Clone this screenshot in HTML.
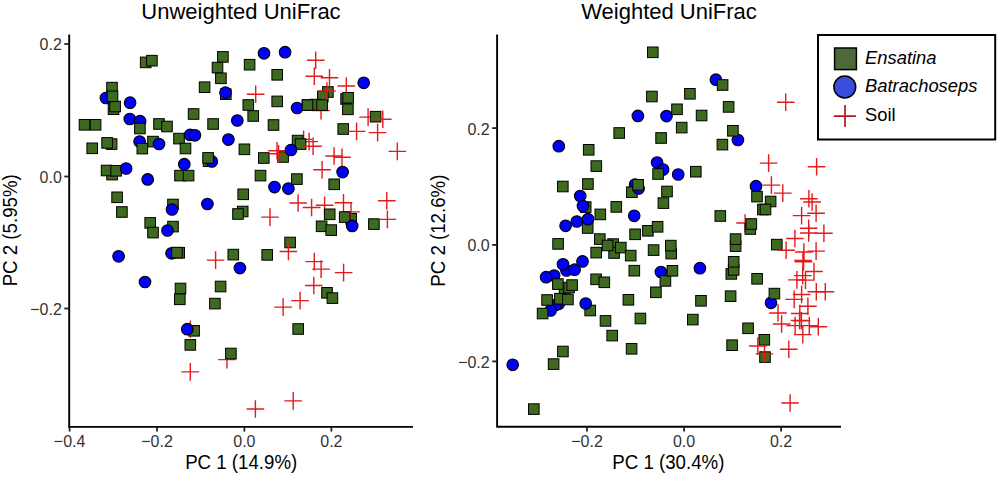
<!DOCTYPE html>
<html><head><meta charset="utf-8"><style>
html,body{margin:0;padding:0;background:#fff;}
body{width:1000px;height:479px;overflow:hidden;position:relative;}
svg{position:absolute;left:0;top:0;}
text{font-family:"Liberation Sans", sans-serif;}
.tl{font-size:16px;fill:#333;}
.ti{font-size:22px;fill:#000;}
.at{font-size:18.7px;fill:#000;}
.lg{font-size:18.4px;fill:#000;}
.s{fill:#3d6a1e;stroke:#000;stroke-width:1.0;}
.c{fill:#0000ff;stroke:#000;stroke-width:1.1;}
.x{stroke:#e31a1c;stroke-width:1.4;fill:none;}
</style></head><body>
<svg width="1000" height="479" viewBox="0 0 1000 479">
<rect width="1000" height="479" fill="#fff"/>
<text transform="translate(241 19.0) scale(1 1.04)" text-anchor="middle" class="ti">Unweighted UniFrac</text>
<text transform="translate(669 19.0) scale(1 1.04)" text-anchor="middle" class="ti">Weighted UniFrac</text>
<text transform="translate(241.2 469) scale(1 1.04)" text-anchor="middle" class="at">PC 1 (14.9%)</text>
<text transform="translate(668.3 469) scale(1 1.04)" text-anchor="middle" class="at">PC 1 (30.4%)</text>
<text transform="translate(16.9 230.3) rotate(-90) scale(1 1.04)" text-anchor="middle" class="at">PC 2 (5.95%)</text>
<text transform="translate(444.9 230.7) rotate(-90) scale(1 1.04)" text-anchor="middle" class="at">PC 2 (12.6%)</text>
<path d="M69.2 34.5V427.9M68.2 426.9H413" stroke="#000" stroke-width="1.9" fill="none"/>
<path d="M69.6 426.9V431.6" stroke="#222" stroke-width="1.8"/>
<text transform="translate(69.6 446.6) scale(1 1.04)" text-anchor="middle" class="tl">−0.4</text>
<path d="M157 426.9V431.6" stroke="#222" stroke-width="1.8"/>
<text transform="translate(157 446.6) scale(1 1.04)" text-anchor="middle" class="tl">−0.2</text>
<path d="M244.4 426.9V431.6" stroke="#222" stroke-width="1.8"/>
<text transform="translate(244.4 446.6) scale(1 1.04)" text-anchor="middle" class="tl">0.0</text>
<path d="M331.4 426.9V431.6" stroke="#222" stroke-width="1.8"/>
<text transform="translate(331.4 446.6) scale(1 1.04)" text-anchor="middle" class="tl">0.2</text>
<path d="M64.3 44.0H69.2" stroke="#222" stroke-width="1.8"/>
<text transform="translate(61.8 50.4) scale(1 1.04)" text-anchor="end" class="tl">0.2</text>
<path d="M64.3 176.5H69.2" stroke="#222" stroke-width="1.8"/>
<text transform="translate(61.8 182.9) scale(1 1.04)" text-anchor="end" class="tl">0.0</text>
<path d="M64.3 308.5H69.2" stroke="#222" stroke-width="1.8"/>
<text transform="translate(61.8 314.9) scale(1 1.04)" text-anchor="end" class="tl">−0.2</text>
<path d="M497.1 34.4V427.8M496.2 426.8H841" stroke="#000" stroke-width="1.9" fill="none"/>
<path d="M587.0 426.8V431.5" stroke="#222" stroke-width="1.8"/>
<text transform="translate(587.0 446.6) scale(1 1.04)" text-anchor="middle" class="tl">−0.2</text>
<path d="M684.1 426.8V431.5" stroke="#222" stroke-width="1.8"/>
<text transform="translate(684.1 446.6) scale(1 1.04)" text-anchor="middle" class="tl">0.0</text>
<path d="M781.1 426.8V431.5" stroke="#222" stroke-width="1.8"/>
<text transform="translate(781.1 446.6) scale(1 1.04)" text-anchor="middle" class="tl">0.2</text>
<path d="M492.2 128.1H497.1" stroke="#222" stroke-width="1.8"/>
<text transform="translate(489.7 134.5) scale(1 1.04)" text-anchor="end" class="tl">0.2</text>
<path d="M492.2 244.9H497.1" stroke="#222" stroke-width="1.8"/>
<text transform="translate(489.7 251.3) scale(1 1.04)" text-anchor="end" class="tl">0.0</text>
<path d="M492.2 361.4H497.1" stroke="#222" stroke-width="1.8"/>
<text transform="translate(489.7 367.8) scale(1 1.04)" text-anchor="end" class="tl">−0.2</text>
<rect x="345.9" y="213.5" width="10.6" height="10.6" class="s"/>
<path d="M315.8 205.2H333.4M324.6 196.4V214.0" class="x"/>
<path d="M334.7 202.8H352.3M343.5 194.0V211.6" class="x"/>
<path d="M342.2 211.9H359.8M351.0 203.1V220.7" class="x"/>
<path d="M337.5 86.0H355.1M346.3 77.2V94.8" class="x"/>
<path d="M218.2 359.6H235.8M227.0 350.8V368.4" class="x"/>
<path d="M359.3 117.1H376.9M368.1 108.3V125.9" class="x"/>
<path d="M294.8 139.4H312.4M303.6 130.6V148.2" class="x"/>
<path d="M300.3 141.6H317.9M309.1 132.8V150.4" class="x"/>
<path d="M312.2 110.6H329.8M321.0 101.8V119.4" class="x"/>
<rect x="140.4" y="57.1" width="10.6" height="10.6" class="s"/>
<rect x="146.6" y="55.4" width="10.6" height="10.6" class="s"/>
<rect x="217.6" y="51.6" width="10.6" height="10.6" class="s"/>
<rect x="212.2" y="62.3" width="10.6" height="10.6" class="s"/>
<rect x="215.6" y="73.0" width="10.6" height="10.6" class="s"/>
<rect x="199.3" y="81.9" width="10.6" height="10.6" class="s"/>
<rect x="220.5" y="88.9" width="10.6" height="10.6" class="s"/>
<rect x="108.2" y="103.9" width="10.6" height="10.6" class="s"/>
<rect x="109.8" y="101.2" width="10.6" height="10.6" class="s"/>
<rect x="188.3" y="108.7" width="10.6" height="10.6" class="s"/>
<rect x="244.3" y="59.4" width="10.6" height="10.6" class="s"/>
<rect x="271.9" y="69.5" width="10.6" height="10.6" class="s"/>
<rect x="271.9" y="96.1" width="10.6" height="10.6" class="s"/>
<rect x="243.0" y="99.7" width="10.6" height="10.6" class="s"/>
<rect x="322.6" y="86.7" width="10.6" height="10.6" class="s"/>
<rect x="317.5" y="91.2" width="10.6" height="10.6" class="s"/>
<rect x="302.2" y="99.8" width="10.6" height="10.6" class="s"/>
<rect x="309.8" y="99.3" width="10.6" height="10.6" class="s"/>
<rect x="316.8" y="99.8" width="10.6" height="10.6" class="s"/>
<rect x="340.8" y="93.7" width="10.6" height="10.6" class="s"/>
<rect x="342.8" y="92.5" width="10.6" height="10.6" class="s"/>
<rect x="342.6" y="104.0" width="10.6" height="10.6" class="s"/>
<rect x="370.3" y="111.4" width="10.6" height="10.6" class="s"/>
<rect x="79.2" y="119.5" width="10.6" height="10.6" class="s"/>
<rect x="90.3" y="119.5" width="10.6" height="10.6" class="s"/>
<rect x="153.7" y="118.7" width="10.6" height="10.6" class="s"/>
<rect x="161.7" y="121.2" width="10.6" height="10.6" class="s"/>
<rect x="106.3" y="138.8" width="10.6" height="10.6" class="s"/>
<rect x="101.8" y="137.6" width="10.6" height="10.6" class="s"/>
<rect x="86.9" y="143.0" width="10.6" height="10.6" class="s"/>
<rect x="147.7" y="136.3" width="10.6" height="10.6" class="s"/>
<rect x="247.9" y="110.7" width="10.6" height="10.6" class="s"/>
<rect x="207.8" y="118.7" width="10.6" height="10.6" class="s"/>
<rect x="173.7" y="133.3" width="10.6" height="10.6" class="s"/>
<rect x="180.2" y="143.2" width="10.6" height="10.6" class="s"/>
<rect x="239.1" y="144.0" width="10.6" height="10.6" class="s"/>
<rect x="268.2" y="119.7" width="10.6" height="10.6" class="s"/>
<rect x="337.9" y="123.7" width="10.6" height="10.6" class="s"/>
<rect x="292.3" y="135.3" width="10.6" height="10.6" class="s"/>
<rect x="295.3" y="138.8" width="10.6" height="10.6" class="s"/>
<rect x="106.8" y="169.3" width="10.6" height="10.6" class="s"/>
<rect x="101.3" y="165.2" width="10.6" height="10.6" class="s"/>
<rect x="110.8" y="165.5" width="10.6" height="10.6" class="s"/>
<rect x="111.8" y="192.0" width="10.6" height="10.6" class="s"/>
<rect x="174.7" y="170.3" width="10.6" height="10.6" class="s"/>
<rect x="183.3" y="170.3" width="10.6" height="10.6" class="s"/>
<rect x="203.3" y="155.9" width="10.6" height="10.6" class="s"/>
<rect x="258.5" y="152.7" width="10.6" height="10.6" class="s"/>
<rect x="255.2" y="170.3" width="10.6" height="10.6" class="s"/>
<rect x="277.8" y="151.7" width="10.6" height="10.6" class="s"/>
<rect x="291.6" y="173.8" width="10.6" height="10.6" class="s"/>
<rect x="328.9" y="179.0" width="10.6" height="10.6" class="s"/>
<rect x="237.9" y="189.0" width="10.6" height="10.6" class="s"/>
<rect x="116.6" y="206.7" width="10.6" height="10.6" class="s"/>
<rect x="144.9" y="217.6" width="10.6" height="10.6" class="s"/>
<rect x="147.7" y="227.3" width="10.6" height="10.6" class="s"/>
<rect x="167.7" y="199.2" width="10.6" height="10.6" class="s"/>
<rect x="167.7" y="221.3" width="10.6" height="10.6" class="s"/>
<rect x="237.4" y="206.2" width="10.6" height="10.6" class="s"/>
<rect x="232.7" y="208.7" width="10.6" height="10.6" class="s"/>
<rect x="324.4" y="209.0" width="10.6" height="10.6" class="s"/>
<rect x="339.4" y="211.8" width="10.6" height="10.6" class="s"/>
<rect x="316.3" y="221.0" width="10.6" height="10.6" class="s"/>
<rect x="325.9" y="224.8" width="10.6" height="10.6" class="s"/>
<rect x="368.6" y="218.8" width="10.6" height="10.6" class="s"/>
<rect x="228.0" y="249.3" width="10.6" height="10.6" class="s"/>
<rect x="284.8" y="237.2" width="10.6" height="10.6" class="s"/>
<rect x="261.9" y="249.6" width="10.6" height="10.6" class="s"/>
<rect x="321.7" y="287.5" width="10.6" height="10.6" class="s"/>
<rect x="327.1" y="292.8" width="10.6" height="10.6" class="s"/>
<rect x="175.2" y="283.2" width="10.6" height="10.6" class="s"/>
<rect x="174.5" y="294.0" width="10.6" height="10.6" class="s"/>
<rect x="215.3" y="281.2" width="10.6" height="10.6" class="s"/>
<rect x="209.6" y="298.3" width="10.6" height="10.6" class="s"/>
<rect x="188.8" y="325.5" width="10.6" height="10.6" class="s"/>
<rect x="185.0" y="339.6" width="10.6" height="10.6" class="s"/>
<rect x="225.6" y="348.2" width="10.6" height="10.6" class="s"/>
<rect x="292.9" y="323.7" width="10.6" height="10.6" class="s"/>
<path d="M306.9 60.3H324.5M315.7 51.5V69.1" class="x"/>
<path d="M305.5 76.2H323.1M314.3 67.4V85.0" class="x"/>
<path d="M320.7 77.8H338.3M329.5 69.0V86.6" class="x"/>
<path d="M246.9 94.3H264.5M255.7 85.5V103.1" class="x"/>
<path d="M318.1 91.0H335.7M326.9 82.2V99.8" class="x"/>
<path d="M374.0 119.2H391.6M382.8 110.4V128.0" class="x"/>
<path d="M304.3 146.3H321.9M313.1 137.5V155.1" class="x"/>
<path d="M268.2 150.8H285.8M277.0 142.0V159.6" class="x"/>
<path d="M269.8 153.7H287.4M278.6 144.9V162.5" class="x"/>
<path d="M347.8 131.4H365.4M356.6 122.6V140.2" class="x"/>
<path d="M368.8 132.6H386.4M377.6 123.8V141.4" class="x"/>
<path d="M388.5 151.4H406.1M397.3 142.6V160.2" class="x"/>
<path d="M325.3 156.0H342.9M334.1 147.2V164.8" class="x"/>
<path d="M333.2 157.3H350.8M342.0 148.5V166.1" class="x"/>
<path d="M313.3 169.8H330.9M322.1 161.0V178.6" class="x"/>
<path d="M261.2 217.1H278.8M270.0 208.3V225.9" class="x"/>
<path d="M289.3 203.0H306.9M298.1 194.2V211.8" class="x"/>
<path d="M302.8 207.5H320.4M311.6 198.7V216.3" class="x"/>
<path d="M378.0 200.8H395.6M386.8 192.0V209.6" class="x"/>
<path d="M378.6 219.4H396.2M387.4 210.6V228.2" class="x"/>
<path d="M206.8 260.1H224.4M215.6 251.3V268.9" class="x"/>
<path d="M279.6 251.5H297.2M288.4 242.7V260.3" class="x"/>
<path d="M305.5 261.6H323.1M314.3 252.8V270.4" class="x"/>
<path d="M312.3 269.1H329.9M321.1 260.3V277.9" class="x"/>
<path d="M334.8 272.6H352.4M343.6 263.8V281.4" class="x"/>
<path d="M305.0 285.5H322.6M313.8 276.7V294.3" class="x"/>
<path d="M291.3 300.6H308.9M300.1 291.8V309.4" class="x"/>
<path d="M274.3 307.1H291.9M283.1 298.3V315.9" class="x"/>
<path d="M181.6 329.2H199.2M190.4 320.4V338.0" class="x"/>
<path d="M181.5 371.9H199.1M190.3 363.1V380.7" class="x"/>
<path d="M246.6 409.0H264.2M255.4 400.2V417.8" class="x"/>
<path d="M284.4 400.9H302.0M293.2 392.1V409.7" class="x"/>
<circle cx="264.0" cy="53.3" r="5.8" class="c"/>
<circle cx="285.1" cy="52.2" r="5.8" class="c"/>
<circle cx="363.7" cy="82.8" r="5.8" class="c"/>
<circle cx="225.5" cy="92.7" r="5.8" class="c"/>
<circle cx="105.9" cy="98.0" r="5.8" class="c"/>
<circle cx="130.1" cy="102.7" r="5.8" class="c"/>
<circle cx="297.1" cy="108.0" r="5.8" class="c"/>
<circle cx="129.8" cy="119.0" r="5.8" class="c"/>
<circle cx="140.1" cy="121.2" r="5.8" class="c"/>
<circle cx="237.3" cy="120.5" r="5.8" class="c"/>
<circle cx="190.1" cy="134.9" r="5.8" class="c"/>
<circle cx="194.9" cy="135.3" r="5.8" class="c"/>
<circle cx="159.0" cy="144.0" r="5.8" class="c"/>
<circle cx="139.6" cy="141.6" r="5.8" class="c"/>
<circle cx="228.4" cy="139.6" r="5.8" class="c"/>
<circle cx="291.0" cy="150.0" r="5.8" class="c"/>
<circle cx="126.1" cy="168.5" r="5.8" class="c"/>
<circle cx="147.7" cy="179.4" r="5.8" class="c"/>
<circle cx="184.3" cy="164.2" r="5.8" class="c"/>
<circle cx="211.8" cy="161.4" r="5.8" class="c"/>
<circle cx="274.5" cy="187.1" r="5.8" class="c"/>
<circle cx="288.4" cy="188.6" r="5.8" class="c"/>
<circle cx="342.6" cy="172.1" r="5.8" class="c"/>
<circle cx="172.0" cy="209.5" r="5.8" class="c"/>
<circle cx="167.5" cy="230.5" r="5.8" class="c"/>
<circle cx="207.4" cy="204.0" r="5.8" class="c"/>
<circle cx="352.2" cy="225.9" r="5.8" class="c"/>
<circle cx="118.6" cy="256.3" r="5.8" class="c"/>
<circle cx="171.6" cy="253.3" r="5.8" class="c"/>
<circle cx="239.9" cy="268.1" r="5.8" class="c"/>
<circle cx="145.0" cy="282.0" r="5.8" class="c"/>
<circle cx="187.3" cy="329.2" r="5.8" class="c"/>
<rect x="106.7" y="82.3" width="10.6" height="10.6" class="s"/>
<rect x="107.2" y="91.0" width="10.6" height="10.6" class="s"/>
<rect x="134.6" y="123.2" width="10.6" height="10.6" class="s"/>
<rect x="137.0" y="143.3" width="10.6" height="10.6" class="s"/>
<rect x="202.8" y="152.6" width="10.6" height="10.6" class="s"/>
<rect x="173.9" y="247.5" width="10.6" height="10.6" class="s"/>
<rect x="171.7" y="247.3" width="10.6" height="10.6" class="s"/>
<rect x="302.2" y="99.8" width="10.6" height="10.6" class="s"/>
<path d="M736.3 223.0H753.9M745.1 214.2V231.8" class="x"/>
<rect x="647.5" y="47.0" width="10.6" height="10.6" class="s"/>
<rect x="684.6" y="88.5" width="10.6" height="10.6" class="s"/>
<rect x="646.6" y="91.2" width="10.6" height="10.6" class="s"/>
<rect x="723.3" y="101.6" width="10.6" height="10.6" class="s"/>
<rect x="696.3" y="110.2" width="10.6" height="10.6" class="s"/>
<rect x="676.4" y="122.3" width="10.6" height="10.6" class="s"/>
<rect x="613.9" y="127.7" width="10.6" height="10.6" class="s"/>
<rect x="655.8" y="132.7" width="10.6" height="10.6" class="s"/>
<rect x="717.1" y="139.3" width="10.6" height="10.6" class="s"/>
<rect x="583.4" y="144.5" width="10.6" height="10.6" class="s"/>
<rect x="591.0" y="160.8" width="10.6" height="10.6" class="s"/>
<rect x="690.5" y="166.4" width="10.6" height="10.6" class="s"/>
<rect x="557.5" y="181.2" width="10.6" height="10.6" class="s"/>
<rect x="582.6" y="178.7" width="10.6" height="10.6" class="s"/>
<rect x="580.4" y="201.8" width="10.6" height="10.6" class="s"/>
<rect x="595.0" y="209.1" width="10.6" height="10.6" class="s"/>
<rect x="661.7" y="186.2" width="10.6" height="10.6" class="s"/>
<rect x="658.1" y="197.8" width="10.6" height="10.6" class="s"/>
<rect x="611.0" y="201.6" width="10.6" height="10.6" class="s"/>
<rect x="765.3" y="196.2" width="10.6" height="10.6" class="s"/>
<rect x="757.6" y="204.2" width="10.6" height="10.6" class="s"/>
<rect x="760.2" y="204.2" width="10.6" height="10.6" class="s"/>
<rect x="582.4" y="222.7" width="10.6" height="10.6" class="s"/>
<rect x="552.8" y="238.6" width="10.6" height="10.6" class="s"/>
<rect x="594.5" y="233.8" width="10.6" height="10.6" class="s"/>
<rect x="607.8" y="238.8" width="10.6" height="10.6" class="s"/>
<rect x="608.8" y="247.7" width="10.6" height="10.6" class="s"/>
<rect x="602.3" y="240.2" width="10.6" height="10.6" class="s"/>
<rect x="590.9" y="247.3" width="10.6" height="10.6" class="s"/>
<rect x="615.5" y="242.3" width="10.6" height="10.6" class="s"/>
<rect x="625.4" y="250.3" width="10.6" height="10.6" class="s"/>
<rect x="629.8" y="229.0" width="10.6" height="10.6" class="s"/>
<rect x="642.6" y="225.5" width="10.6" height="10.6" class="s"/>
<rect x="652.3" y="221.5" width="10.6" height="10.6" class="s"/>
<rect x="648.3" y="244.8" width="10.6" height="10.6" class="s"/>
<rect x="665.9" y="248.3" width="10.6" height="10.6" class="s"/>
<rect x="665.5" y="240.3" width="10.6" height="10.6" class="s"/>
<rect x="715.0" y="210.7" width="10.6" height="10.6" class="s"/>
<rect x="745.0" y="223.7" width="10.6" height="10.6" class="s"/>
<rect x="746.0" y="218.7" width="10.6" height="10.6" class="s"/>
<rect x="730.3" y="240.8" width="10.6" height="10.6" class="s"/>
<rect x="730.3" y="233.8" width="10.6" height="10.6" class="s"/>
<rect x="771.5" y="239.3" width="10.6" height="10.6" class="s"/>
<rect x="629.0" y="265.4" width="10.6" height="10.6" class="s"/>
<rect x="650.6" y="287.0" width="10.6" height="10.6" class="s"/>
<rect x="590.8" y="274.0" width="10.6" height="10.6" class="s"/>
<rect x="599.0" y="277.0" width="10.6" height="10.6" class="s"/>
<rect x="559.3" y="286.3" width="10.6" height="10.6" class="s"/>
<rect x="563.8" y="282.3" width="10.6" height="10.6" class="s"/>
<rect x="566.8" y="279.8" width="10.6" height="10.6" class="s"/>
<rect x="584.9" y="305.2" width="10.6" height="10.6" class="s"/>
<rect x="623.1" y="294.5" width="10.6" height="10.6" class="s"/>
<rect x="600.2" y="315.6" width="10.6" height="10.6" class="s"/>
<rect x="635.1" y="313.2" width="10.6" height="10.6" class="s"/>
<rect x="606.9" y="330.3" width="10.6" height="10.6" class="s"/>
<rect x="626.3" y="343.5" width="10.6" height="10.6" class="s"/>
<rect x="726.0" y="268.6" width="10.6" height="10.6" class="s"/>
<rect x="728.4" y="264.6" width="10.6" height="10.6" class="s"/>
<rect x="728.4" y="256.5" width="10.6" height="10.6" class="s"/>
<rect x="751.8" y="273.5" width="10.6" height="10.6" class="s"/>
<rect x="695.7" y="295.5" width="10.6" height="10.6" class="s"/>
<rect x="725.3" y="290.9" width="10.6" height="10.6" class="s"/>
<rect x="687.5" y="314.3" width="10.6" height="10.6" class="s"/>
<rect x="742.8" y="323.0" width="10.6" height="10.6" class="s"/>
<rect x="759.0" y="334.5" width="10.6" height="10.6" class="s"/>
<rect x="759.7" y="351.8" width="10.6" height="10.6" class="s"/>
<rect x="726.8" y="339.9" width="10.6" height="10.6" class="s"/>
<rect x="557.6" y="346.2" width="10.6" height="10.6" class="s"/>
<rect x="548.3" y="358.8" width="10.6" height="10.6" class="s"/>
<rect x="528.5" y="403.8" width="10.6" height="10.6" class="s"/>
<path d="M776.9 102.3H794.5M785.7 93.5V111.1" class="x"/>
<path d="M759.8 163.1H777.4M768.6 154.3V171.9" class="x"/>
<path d="M807.8 166.8H825.4M816.6 158.0V175.6" class="x"/>
<path d="M762.6 185.1H780.2M771.4 176.3V193.9" class="x"/>
<path d="M774.0 193.1H791.6M782.8 184.3V201.9" class="x"/>
<path d="M800.1 198.8H817.7M808.9 190.0V207.6" class="x"/>
<path d="M803.3 202.0H820.9M812.1 193.2V210.8" class="x"/>
<path d="M792.8 215.6H810.4M801.6 206.8V224.4" class="x"/>
<path d="M807.3 213.3H824.9M816.1 204.5V222.1" class="x"/>
<path d="M799.9 228.2H817.5M808.7 219.4V237.0" class="x"/>
<path d="M799.9 233.0H817.5M808.7 224.2V241.8" class="x"/>
<path d="M815.1 233.2H832.7M823.9 224.4V242.0" class="x"/>
<path d="M786.1 238.5H803.7M794.9 229.7V247.3" class="x"/>
<path d="M777.3 250.2H794.9M786.1 241.4V259.0" class="x"/>
<path d="M795.1 252.0H812.7M803.9 243.2V260.8" class="x"/>
<path d="M807.3 251.1H824.9M816.1 242.3V259.9" class="x"/>
<path d="M794.2 260.5H811.8M803.0 251.7V269.3" class="x"/>
<path d="M794.7 261.8H812.3M803.5 253.0V270.6" class="x"/>
<path d="M805.2 271.5H822.8M814.0 262.7V280.3" class="x"/>
<path d="M793.9 275.6H811.5M802.7 266.8V284.4" class="x"/>
<path d="M796.7 280.1H814.3M805.5 271.3V288.9" class="x"/>
<path d="M788.1 279.9H805.7M796.9 271.1V288.7" class="x"/>
<path d="M807.5 291.8H825.1M816.3 283.0V300.6" class="x"/>
<path d="M816.5 291.8H834.1M825.3 283.0V300.6" class="x"/>
<path d="M792.8 294.5H810.4M801.6 285.7V303.3" class="x"/>
<path d="M785.4 299.4H803.0M794.2 290.6V308.2" class="x"/>
<path d="M799.1 306.3H816.7M807.9 297.5V315.1" class="x"/>
<path d="M769.2 313.0H786.8M778.0 304.2V321.8" class="x"/>
<path d="M791.0 313.5H808.6M799.8 304.7V322.3" class="x"/>
<path d="M792.6 320.7H810.2M801.4 311.9V329.5" class="x"/>
<path d="M790.8 320.4H808.4M799.6 311.6V329.2" class="x"/>
<path d="M772.8 324.0H790.4M781.6 315.2V332.8" class="x"/>
<path d="M786.3 325.6H803.9M795.1 316.8V334.4" class="x"/>
<path d="M800.5 325.6H818.1M809.3 316.8V334.4" class="x"/>
<path d="M809.5 326.7H827.1M818.3 317.9V335.5" class="x"/>
<path d="M794.0 334.6H811.6M802.8 325.8V343.4" class="x"/>
<path d="M749.0 346.0H766.6M757.8 337.2V354.8" class="x"/>
<path d="M755.7 353.9H773.3M764.5 345.1V362.7" class="x"/>
<path d="M780.0 349.2H797.6M788.8 340.4V358.0" class="x"/>
<path d="M781.3 403.0H798.9M790.1 394.2V411.8" class="x"/>
<circle cx="715.9" cy="79.7" r="5.8" class="c"/>
<circle cx="637.9" cy="115.9" r="5.8" class="c"/>
<circle cx="666.5" cy="116.1" r="5.8" class="c"/>
<circle cx="737.9" cy="140.0" r="5.8" class="c"/>
<circle cx="558.8" cy="146.2" r="5.8" class="c"/>
<circle cx="657.1" cy="162.6" r="5.8" class="c"/>
<circle cx="663.1" cy="169.6" r="5.8" class="c"/>
<circle cx="678.2" cy="174.5" r="5.8" class="c"/>
<circle cx="580.2" cy="196.1" r="5.8" class="c"/>
<circle cx="583.0" cy="206.1" r="5.8" class="c"/>
<circle cx="634.2" cy="215.8" r="5.8" class="c"/>
<circle cx="565.6" cy="225.8" r="5.8" class="c"/>
<circle cx="576.8" cy="221.5" r="5.8" class="c"/>
<circle cx="588.0" cy="219.2" r="5.8" class="c"/>
<circle cx="756.0" cy="186.2" r="5.8" class="c"/>
<circle cx="566.5" cy="270.5" r="5.8" class="c"/>
<circle cx="582.5" cy="261.4" r="5.8" class="c"/>
<circle cx="563.0" cy="264.3" r="5.8" class="c"/>
<circle cx="574.6" cy="269.7" r="5.8" class="c"/>
<circle cx="554.1" cy="275.5" r="5.8" class="c"/>
<circle cx="546.1" cy="277.2" r="5.8" class="c"/>
<circle cx="558.8" cy="303.8" r="5.8" class="c"/>
<circle cx="555.5" cy="305.0" r="5.8" class="c"/>
<circle cx="550.6" cy="310.5" r="5.8" class="c"/>
<circle cx="585.7" cy="303.5" r="5.8" class="c"/>
<circle cx="660.9" cy="272.0" r="5.8" class="c"/>
<circle cx="699.9" cy="268.2" r="5.8" class="c"/>
<circle cx="771.0" cy="302.8" r="5.8" class="c"/>
<circle cx="512.7" cy="364.8" r="5.8" class="c"/>
<circle cx="635.1" cy="184.5" r="5.8" class="c"/>
<rect x="626.6" y="186.9" width="10.6" height="10.6" class="s"/>
<circle cx="638.6" cy="188.5" r="5.8" class="c"/>
<rect x="632.8" y="179.5" width="10.6" height="10.6" class="s"/>
<rect x="541.8" y="294.7" width="10.6" height="10.6" class="s"/>
<rect x="554.6" y="293.4" width="10.6" height="10.6" class="s"/>
<rect x="562.6" y="294.2" width="10.6" height="10.6" class="s"/>
<rect x="717.3" y="79.7" width="10.6" height="10.6" class="s"/>
<rect x="671.7" y="104.0" width="10.6" height="10.6" class="s"/>
<rect x="727.6" y="125.5" width="10.6" height="10.6" class="s"/>
<rect x="652.8" y="168.7" width="10.6" height="10.6" class="s"/>
<rect x="751.7" y="191.3" width="10.6" height="10.6" class="s"/>
<rect x="552.6" y="278.8" width="10.6" height="10.6" class="s"/>
<rect x="537.3" y="308.2" width="10.6" height="10.6" class="s"/>
<rect x="660.1" y="275.6" width="10.6" height="10.6" class="s"/>
<rect x="667.1" y="265.5" width="10.6" height="10.6" class="s"/>
<rect x="769.1" y="288.3" width="10.6" height="10.6" class="s"/>
<rect x="818" y="35" width="177.2" height="104.5" fill="#fff" stroke="#000" stroke-width="2"/>
<rect x="834.6" y="48" width="21.8" height="21.6" fill="#4b6a37" stroke="#000" stroke-width="1.5"/>
<circle cx="844.8" cy="87" r="10.9" fill="#3b4ddf" stroke="#000" stroke-width="1.5"/>
<path d="M833.8 116.2H855.9M845 105V127.1" stroke="#b8141e" stroke-width="1.7" fill="none"/>
<text x="865" y="64.1" class="lg" font-style="italic">Ensatina</text>
<text x="865" y="92" class="lg" font-style="italic">Batrachoseps</text>
<text x="865" y="121.4" class="lg">Soil</text>
</svg>
</body></html>
